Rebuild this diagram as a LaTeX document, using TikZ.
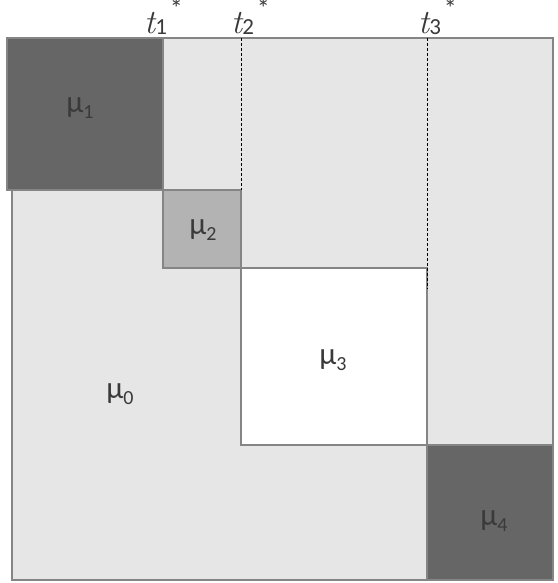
\documentclass[tikz,border=0pt]{standalone}
\usepackage{fontspec}
\setmainfont{Carlito}
\newfontfamily\tfont{Latin Modern Roman}
\definecolor{lightg}{HTML}{E6E6E6}
\definecolor{darkg}{HTML}{666666}
\definecolor{midg}{HTML}{B3B3B3}
\definecolor{edgeg}{HTML}{858585}
\definecolor{txtg}{HTML}{3A3A3A}
\newcommand\mulab[1]{{\fontsize{31}{31}\selectfont μ}{\fontsize{20}{20}\selectfont\raisebox{-6pt}{#1}}}
\newcommand\tlab[1]{{\fontsize{34}{34}\tfont\itshape t}{\fontsize{23}{23}\selectfont\raisebox{-1pt}{#1}\hspace{3pt}\raisebox{16pt}{\fontsize{26}{26}\selectfont*}}}
\begin{document}
\begin{tikzpicture}[x=1pt,y=1pt,
  blk/.style={draw=edgeg,line width=1.1pt},
  dashline/.style={draw=black,line width=0.8pt,dash pattern=on 3pt off 2pt},
  mulabel/.style={text=txtg,inner sep=0pt},
  tlabel/.style={text=txtg,inner sep=0pt,anchor=base west}]
\useasboundingbox (0,0) rectangle (557,-583);
% outer block
\draw[blk,fill=lightg] (12,-38) rectangle (553,-580);
% diagonal blocks
\draw[blk,fill=darkg] (7,-38) rectangle (163,-190);
\draw[blk,fill=midg] (163,-190) rectangle (241,-268);
\draw[blk,fill=white] (241,-268) rectangle (427,-445);
\draw[blk,fill=darkg] (427,-445) rectangle (553,-580);
% change points
\coordinate (c2top) at (241,-38);
\coordinate (c2bot) at (241,-190);
\coordinate (c3top) at (427,-38);
\coordinate (c3bot) at (427,-289);
\draw[dashline] (c2top) -- (c2bot);
\draw[dashline] (c3top) -- (c3bot);
% labels
\node[mulabel] (m1) at (80,-108) {\mulab{1}};
\node[mulabel] (m2) at (203,-230) {\mulab{2}};
\node[mulabel] (m3) at (333,-360) {\mulab{3}};
\node[mulabel] (m4) at (494,-521) {\mulab{4}};
\node[mulabel] (m0) at (120,-394) {\mulab{0}};
\node[tlabel] (t1) at (144,-34) {\tlab{1}};
\node[tlabel] (t2) at (231,-34) {\tlab{2}};
\node[tlabel] (t3) at (418,-34) {\tlab{3}};
\end{tikzpicture}
\end{document}
